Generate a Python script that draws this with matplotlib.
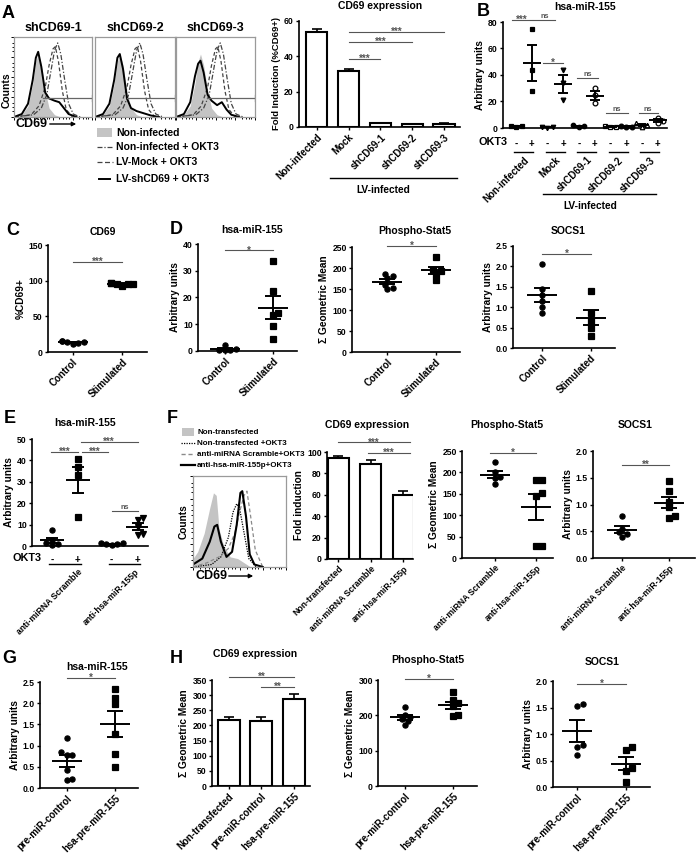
import numpy as np
import matplotlib
matplotlib.use("Agg")
import matplotlib.pyplot as plt

# ---------------- data ----------------
# A: flow histograms (x = fraction of CD69 channel range, y = relative counts)
a_gray_x = [0.0, 0.10, 0.18, 0.24, 0.28, 0.31, 0.35, 0.40, 0.45, 0.52, 0.60]
a_gray_y = [0.0, 0.03, 0.15, 0.45, 0.75, 0.85, 0.70, 0.35, 0.12, 0.03, 0.0]
a_dashdot_x = [0.0, 0.25, 0.35, 0.42, 0.47, 0.52, 0.56, 0.60, 0.65, 0.70, 0.76, 0.85]
a_dashdot_y = [0.0, 0.03, 0.12, 0.30, 0.60, 0.90, 1.00, 0.85, 0.50, 0.18, 0.04, 0.0]
a_dashed_x = [0.0, 0.22, 0.32, 0.40, 0.45, 0.50, 0.53, 0.57, 0.62, 0.67, 0.75]
a_dashed_y = [0.0, 0.03, 0.15, 0.40, 0.70, 0.92, 0.95, 0.75, 0.35, 0.10, 0.0]
a_black_x = [0.0, 0.10, 0.18, 0.24, 0.28, 0.31, 0.35, 0.40, 0.45, 0.52, 0.58, 0.64, 0.70, 0.80]
a_black1_y = [0.0, 0.04, 0.18, 0.50, 0.80, 0.88, 0.68, 0.33, 0.25, 0.22, 0.20, 0.12, 0.04, 0.0]
a_black2_y = [0.0, 0.04, 0.18, 0.50, 0.80, 0.85, 0.65, 0.25, 0.12, 0.08, 0.06, 0.04, 0.02, 0.0]
a_black3_y = [0.0, 0.04, 0.20, 0.55, 0.72, 0.76, 0.60, 0.30, 0.22, 0.16, 0.20, 0.10, 0.03, 0.0]
a_hist_titles = ["shCD69-1", "shCD69-2", "shCD69-3"]
a_gate_start = [0.37, 0.40, 0.39]

# A: CD69 expression bars
a_bar_labels = ["Non-infected", "Mock", "shCD69-1", "shCD69-2", "shCD69-3"]
a_bar_vals = [54.0, 31.5, 2.0, 1.5, 1.8]
a_bar_err = [1.5, 1.5, 0.3, 0.2, 0.2]

# B: hsa-miR-155, OKT3 -/+ per group
b_groups = ["Non-infected", "Mock", "shCD69-1", "shCD69-2", "shCD69-3"]
b_minus = [[1.2, 0.8, 1.5], [0.5, 0.3, 0.8], [2.0, 1.2, 0.8], [1.5, 0.8, 0.5], [3.5, 2.0, 1.0]]
b_plus = [[75, 44, 28], [44, 34, 21], [30, 25, 18.5], [1.8, 1.0, 0.6], [7.5, 5.5, 4.0]]

# C / D: Control vs Stimulated
c_ctrl = [16, 13, 11, 14, 15, 13.5]
c_stim = [97, 96, 95, 93, 97, 96]
d_mir_ctrl = [0.6, 0.4, 0.2, 0.5, 2.3]
d_mir_stim = [33.5, 22.4, 14.3, 13.4, 9.3, 4.6]
d_stat_ctrl = [180, 177, 186, 160, 150, 152]
d_stat_stim = [226, 196, 192, 186, 172]
d_socs_ctrl = [2.05, 1.45, 1.3, 1.15, 1.0, 0.85]
d_socs_stim = [1.4, 0.85, 0.65, 0.5, 0.3]

# E: hsa-miR-155 with antagomirs
e_labels = ["anti-miRNA Scramble", "anti-hsa-miR-155p"]
e_scr_minus = [7.5, 3.0, 1.2, 0.8, 0.5]
e_scr_plus = [40.5, 37, 33, 13.5]
e_anti_minus = [1.2, 1.0, 0.8, 0.6, 1.4]
e_anti_plus = [13, 12, 9, 5.5, 5]

# F: flow histogram
f_gray_x = [0.0, 0.05, 0.12, 0.18, 0.22, 0.25, 0.28, 0.33, 0.40, 0.48, 0.55, 0.62]
f_gray_y = [0.10, 0.18, 0.40, 0.70, 0.88, 0.85, 0.45, 0.25, 0.12, 0.10, 0.05, 0.0]
f_black_x = [0.0, 0.10, 0.18, 0.23, 0.26, 0.30, 0.36, 0.42, 0.47, 0.51, 0.53, 0.57, 0.61, 0.66, 0.75]
f_black_y = [0.03, 0.10, 0.30, 0.48, 0.50, 0.30, 0.12, 0.18, 0.50, 0.88, 0.90, 0.60, 0.15, 0.03, 0.0]
f_dotted_x = [0.0, 0.20, 0.30, 0.38, 0.43, 0.47, 0.50, 0.55, 0.60, 0.68]
f_dotted_y = [0.0, 0.03, 0.12, 0.35, 0.65, 0.75, 0.70, 0.40, 0.10, 0.0]
f_dashed_x = [0.0, 0.15, 0.28, 0.38, 0.45, 0.50, 0.55, 0.58, 0.62, 0.67, 0.75]
f_dashed_y = [0.0, 0.05, 0.12, 0.22, 0.40, 0.65, 0.85, 0.90, 0.60, 0.20, 0.0]

# F: bars and dots
f_bar_labels = ["Non-transfected", "anti-miRNA Scramble", "anti-hsa-miR-155p"]
f_bar_vals = [94.5, 88.5, 59.5]
f_bar_err = [1.5, 4.0, 4.5]
f_stat_scr = [225, 200, 190, 188, 172]
f_stat_anti = [183, 182, 152, 145, 27, 27]
f_socs_scr = [0.78, 0.55, 0.48, 0.45, 0.40]
f_socs_anti = [1.43, 1.25, 1.05, 0.95, 0.78, 0.75]

# G / H
gh_labels = ["pre-miR-control", "hsa-pre-miR-155"]
g_ctrl = [1.17, 0.85, 0.78, 0.78, 0.43, 0.22, 0.18]
g_pre = [2.33, 2.13, 1.98, 1.28, 0.80, 0.50]
h_bar_labels = ["Non-transfected", "pre-miR-control", "hsa-pre-miR-155"]
h_bar_vals = [217, 216, 288]
h_bar_err = [12, 11, 15]
h_stat_ctrl = [225, 201, 195, 190, 184, 173]
h_stat_pre = [266, 243, 235, 226, 201, 198]
h_socs_ctrl = [1.57, 1.53, 0.80, 0.75, 0.60]
h_socs_pre = [0.75, 0.70, 0.35, 0.30, 0.10]

# ---------------- helpers ----------------
plt.rcParams["font.family"] = ["Liberation Sans", "DejaVu Sans"]
plt.rcParams["font.weight"] = "bold"
plt.rcParams["axes.labelweight"] = "bold"

W, H = 696, 855
fig = plt.figure(figsize=(W / 100, H / 100), dpi=100)
over = fig.add_axes([0, 0, 1, 1])
over.set_xlim(0, W)
over.set_ylim(H, 0)
over.axis("off")

TICK = 6.2
LAB = 7.0
SMALL = 6.2


def px_axes(x0, y0, x1, y1):
    return fig.add_axes([x0 / W, 1 - y1 / H, (x1 - x0) / W, (y1 - y0) / H])


def prism(ax, xlim, ylim, yticks, fmt="{:g}", ylabel=None):
    ax.set_xlim(*xlim)
    ax.set_ylim(*ylim)
    ax.set_yticks(yticks)
    ax.set_yticklabels([fmt.format(t) for t in yticks])
    for s in ("top", "right"):
        ax.spines[s].set_visible(False)
    for s in ("left", "bottom"):
        ax.spines[s].set_linewidth(1.2)
    ax.tick_params(direction="out", length=2.5, width=1, labelsize=TICK, pad=1.2)
    ax.patch.set_alpha(0)
    if ylabel:
        ax.set_ylabel(ylabel, fontsize=7.3, labelpad=2)


def xcats(ax, pos, labels, fs=LAB):
    ax.set_xticks(pos)
    ax.set_xticklabels(labels, rotation=45, ha="right", rotation_mode="anchor", fontsize=fs)


def scale(ax):
    pos = ax.get_position()
    x0, x1 = ax.get_xlim()
    y0, y1 = ax.get_ylim()
    return pos.width * W / (x1 - x0), pos.height * H / (y1 - y0)


def swarm(ax, vals, d=4.6):
    sx, sy = scale(ax)
    placed = []
    offs = np.zeros(len(vals))
    for i in np.argsort(vals):
        py = vals[i] * sy
        px = 0.0
        for k in [0, 1, -1, 2, -2, 3, -3, 4, -4]:
            px = k * d * 0.6
            if all((px - qx) ** 2 + (py - qy) ** 2 >= d * d for qx, qy in placed):
                break
        placed.append((px, py))
        offs[i] = px / sx
    return offs


def dots(ax, x, vals, marker="o", filled=True, half=15, cap=8, ms=3.7):
    vals = np.asarray(vals, float)
    sx, _ = scale(ax)
    offs = swarm(ax, vals)
    ax.plot(x + offs, vals, ls="none", marker=marker, ms=ms,
            mfc="black" if filled else "white", mec="black", mew=0.9,
            clip_on=False, zorder=3)
    m = vals.mean()
    se = vals.std(ddof=1) / np.sqrt(len(vals))
    kw = dict(color="black", lw=1.4, zorder=4, solid_capstyle="butt")
    ax.plot([x - half / sx, x + half / sx], [m, m], **kw)
    ax.plot([x, x], [m - se, m + se], **kw)
    for yy in (m - se, m + se):
        ax.plot([x - cap / sx, x + cap / sx], [yy, yy], **kw)


def bars(ax, vals, errs, width):
    x = np.arange(len(vals))
    ax.errorbar(x, vals, yerr=[np.zeros(len(vals)), errs], fmt="none", ecolor="black",
                elinewidth=1.2, capsize=3.5, capthick=1.2, zorder=1)
    ax.bar(x, vals, width=width, color="white", edgecolor="black", linewidth=1.5, zorder=2)


def sig(ax, x0, x1, y, txt):
    ax.plot([x0, x1], [y, y], color="#555555", lw=0.8, clip_on=False)
    if txt == "ns":
        ax.text((x0 + x1) / 2, y, txt, ha="center", va="bottom", fontsize=5.2,
                color="#555555", clip_on=False)
    else:
        ax.text((x0 + x1) / 2, y, txt, ha="center", va="center", fontsize=7,
                color="#555555", clip_on=False)


def under(ax, x0, x1, dy_px, lw=1.0):
    hpx = ax.get_position().height * H
    ax.plot([x0, x1], [-dy_px / hpx] * 2, transform=ax.get_xaxis_transform(),
            clip_on=False, color="black", lw=lw)


def below(ax, x, dy_px, txt, **kw):
    ax.annotate(txt, xy=(x, 0), xycoords=("data", "axes fraction"),
                xytext=(0, -dy_px * 0.72), textcoords="offset points", **kw)


def title(x, y, txt, fs=7.5):
    over.text(x, y, txt, ha="center", va="center", fontsize=fs, fontweight="bold")


def letter(x, y, txt):
    over.text(x, y, txt, ha="left", va="center", fontsize=13, fontweight="bold")


def flow_frame(ax):
    ax.set_xlim(0, 1)
    ax.set_ylim(0, 1.08)
    for s in ax.spines.values():
        s.set_color("#9a9a9a")
        s.set_linewidth(0.9)
    ax.set_xticks([0.0, 0.25, 0.5, 0.75, 1.0])
    ax.set_xticks([0.08, 0.13, 0.17, 0.2, 0.33, 0.38, 0.42, 0.45, 0.58, 0.63, 0.67, 0.7, 0.83, 0.88, 0.92, 0.95], minor=True)
    ax.set_yticks([0.0, 0.27, 0.54, 0.81, 1.08])
    ax.set_yticks([0.08, 0.14, 0.19, 0.35, 0.41, 0.46, 0.62, 0.68, 0.73, 0.89, 0.95, 1.0], minor=True)
    ax.tick_params(which="both", direction="out", length=2, width=0.7, color="black",
                   labelbottom=False, labelleft=False)
    ax.tick_params(which="minor", length=1.2)


# ---------------- A: histograms ----------------
hist_boxes = [(14, 37, 92, 117), (95, 37, 175, 117), (176, 37, 255, 117)]
black_sets = [a_black1_y, a_black2_y, a_black3_y]
for i, (x0, y0, x1, y1) in enumerate(hist_boxes):
    ax = px_axes(x0, y0, x1, y1)
    flow_frame(ax)
    if i > 0:
        ax.tick_params(axis="y", which="both", left=False)
    ax.fill_between(a_gray_x, a_gray_y, color="#c4c4c4", lw=0)
    ax.plot(a_dashdot_x, a_dashdot_y, color="#444444", lw=0.9, ls=(0, (4, 1.5, 1, 1.5)))
    ax.plot(a_dashed_x, a_dashed_y, color="#444444", lw=0.9, ls=(0, (3, 2)))
    ax.plot(a_black_x, black_sets[i], color="black", lw=1.4)
    g = a_gate_start[i]
    ax.plot([g, 0.995], [0.26, 0.26], color="#666666", lw=0.9)
    ax.plot([0.995, 0.995], [0.22, 0.30], color="#666666", lw=0.9)
    title((x0 + x1) / 2, 28, a_hist_titles[i], fs=9)

letter(2, 13, "A")
over.text(7, 90, "Counts", rotation=90, ha="center", va="center", fontsize=7.5)
over.text(15, 124, "CD69", ha="left", va="center", fontsize=9)
over.annotate("", xy=(79, 124), xytext=(47, 124),
              arrowprops=dict(arrowstyle="-|>", lw=1.0, color="black", mutation_scale=6))
over.add_patch(plt.Rectangle((97, 128), 15, 9, color="#c4c4c4", lw=0))
over.text(116, 132.5, "Non-infected", ha="left", va="center", fontsize=7.5)
over.plot([97, 113], [147, 147], color="#444444", lw=0.9, ls=(0, (4, 1.5, 1, 1.5)))
over.text(116, 147, "Non-infected + OKT3", ha="left", va="center", fontsize=7.5)
over.plot([97, 113], [162, 162], color="#444444", lw=0.9, ls=(0, (4, 2)))
over.text(116, 162, "LV-Mock + OKT3", ha="left", va="center", fontsize=7.5)
over.plot([99, 110], [179, 179], color="black", lw=1.4)
over.text(116, 179, "LV-shCD69 + OKT3", ha="left", va="center", fontsize=7.5)

# ---------------- A: bars ----------------
ax = px_axes(299, 21, 460, 127)
prism(ax, (-0.56, 4.5), (0, 60), [0, 20, 40, 60], ylabel="Fold Induction (%CD69+)")
ax.yaxis.label.set_fontsize(6.8)
bars(ax, a_bar_vals, a_bar_err, 0.67)
xcats(ax, range(5), a_bar_labels)
sig(ax, 1, 2, 38.5, "***")
sig(ax, 1, 3, 48, "***")
sig(ax, 1, 4, 53.8, "***")
title(380, 6, "CD69 expression")
over.plot([330, 457], [178, 178], color="black", lw=1.0)
over.text(383, 190, "LV-infected", ha="center", va="center", fontsize=7.3)

# ---------------- B ----------------
ax = px_axes(503, 22, 667, 128)
prism(ax, (-0.83, 9.6), (0, 80), [0, 20, 40, 60, 80], ylabel="Arbitrary units")
b_mark = [("s", True, "s", True), ("v", True, "v", True), ("o", True, "o", False),
          ("s", False, "o", True), ("^", False, "o", False)]
for k in range(5):
    m1, f1, m2, f2 = b_mark[k]
    dots(ax, 2 * k, b_minus[k], marker=m1, filled=f1, half=7, cap=4, ms=3.2)
    dots(ax, 2 * k + 1, b_plus[k], marker=m2, filled=f2, half=9, cap=5, ms=3.4)
ax.set_xticks(range(10))
ax.set_xticklabels(["-", "+"] * 5, fontsize=7)
ax.tick_params(axis="x", length=0, pad=8)
ax.annotate("OKT3", xy=(0, 0), xycoords="axes fraction", xytext=(3, -10),
            textcoords="offset points", ha="right", va="center", fontsize=7.8)
for k in range(5):
    under(ax, 2 * k - 0.1, 2 * k + 1.1, 24)
    below(ax, 2 * k + 0.5, 27, b_groups[k], rotation=45, ha="right", va="top",
          rotation_mode="anchor", fontsize=LAB)
sig(ax, -0.25, 1.0, 81.5, "***")
sig(ax, 1.1, 2.5, 81.5, "ns")
sig(ax, 1.7, 3.0, 49, "*")
sig(ax, 3.9, 5.2, 37.7, "ns")
sig(ax, 5.7, 7.1, 11.3, "ns")
sig(ax, 7.8, 9.0, 11.3, "ns")
title(585, 7, "hsa-miR-155")
letter(477, 12, "B")
over.plot([543, 656], [194, 194], color="black", lw=1.0)
over.text(590, 206, "LV-infected", ha="center", va="center", fontsize=7.3)

# ---------------- C ----------------
ax = px_axes(48, 245, 147, 352)
prism(ax, (-0.5, 1.5), (0, 150), [0, 50, 100, 150], ylabel="%CD69+")
dots(ax, 0, c_ctrl)
dots(ax, 1, c_stim, marker="s")
xcats(ax, [0, 1], ["Control", "Stimulated"])
sig(ax, 0, 1, 126, "***")
title(103, 232, "CD69")
letter(6, 230, "C")

# ---------------- D ----------------
ax = px_axes(198, 244, 297, 351)
prism(ax, (-0.56, 1.5), (0, 40), [0, 10, 20, 30, 40], ylabel="Arbitrary units")
dots(ax, 0, d_mir_ctrl)
dots(ax, 1, d_mir_stim, marker="s")
xcats(ax, [0, 1], ["Control", "Stimulated"])
sig(ax, 0, 1, 37.6, "*")
title(252, 230, "hsa-miR-155")
letter(170, 229, "D")

ax = px_axes(352, 247, 460, 352)
prism(ax, (-0.73, 1.5), (0, 250), [0, 50, 100, 150, 200, 250], ylabel="\u03a3 Geometric Mean")
dots(ax, 0, d_stat_ctrl)
dots(ax, 1, d_stat_stim, marker="s")
xcats(ax, [0, 1], ["Control", "Stimulated"])
sig(ax, 0, 1, 252, "*")
title(415, 231, "Phospho-Stat5")

ax = px_axes(513, 246, 615, 348)
prism(ax, (-0.6, 1.5), (0, 2.5), [0, 0.5, 1.0, 1.5, 2.0, 2.5], fmt="{:.1f}", ylabel="Arbitrary units")
dots(ax, 0, d_socs_ctrl)
dots(ax, 1, d_socs_stim, marker="s")
xcats(ax, [0, 1], ["Control", "Stimulated"])
sig(ax, 0, 1, 2.3, "*")
title(568, 231, "SOCS1")

# ---------------- E ----------------
ax = px_axes(32, 439, 148, 546)
prism(ax, (-0.77, 3.7), (0, 50), [0, 10, 20, 30, 40, 50], ylabel="Arbitrary units")
e_pos = [0, 1, 2.3, 3.3]
dots(ax, e_pos[0], e_scr_minus, marker="o", half=12, cap=6)
dots(ax, e_pos[1], e_scr_plus, marker="s", half=12, cap=6)
dots(ax, e_pos[2], e_anti_minus, marker="o", half=12, cap=6)
dots(ax, e_pos[3], e_anti_plus, marker="v", half=12, cap=6)
ax.set_xticks(e_pos)
ax.set_xticklabels(["-", "+", "-", "+"], fontsize=7)
ax.tick_params(axis="x", length=0, pad=6.5)
ax.annotate("OKT3", xy=(0, 0), xycoords="axes fraction", xytext=(7, -8.6),
            textcoords="offset points", ha="right", va="center", fontsize=7.8)
under(ax, -0.1, 1.1, 18)
under(ax, 2.2, 3.4, 18)
below(ax, 1.0, 21, e_labels[0], rotation=45, ha="right", va="top",
      rotation_mode="anchor", fontsize=SMALL)
below(ax, 3.2, 21, e_labels[1], rotation=45, ha="right", va="top",
      rotation_mode="anchor", fontsize=SMALL)
sig(ax, -0.05, 1.0, 44, "***")
sig(ax, 1.15, 2.15, 44, "***")
sig(ax, 1.1, 3.3, 48.6, "***")
sig(ax, 2.3, 3.3, 16.4, "ns")
title(85, 423, "hsa-miR-155")
letter(4, 418, "E")

# ---------------- F: histogram ----------------
ax = px_axes(193, 476, 286, 567)
flow_frame(ax)
ax.fill_between(f_gray_x, f_gray_y, color="#c4c4c4", lw=0)
ax.plot(f_dotted_x, f_dotted_y, color="black", lw=0.9, ls=(0, (1, 1)))
ax.plot(f_dashed_x, f_dashed_y, color="#8a8a8a", lw=0.9, ls=(0, (3, 2)))
ax.plot(f_black_x, f_black_y, color="black", lw=1.5)
letter(167, 418, "F")
over.add_patch(plt.Rectangle((182, 428), 12, 8, color="#c4c4c4", lw=0))
over.text(197, 432, "Non-transfected", ha="left", va="center", fontsize=5.8)
over.plot([181, 195], [443, 443], color="black", lw=0.9, ls=(0, (1, 1)))
over.text(197, 443, "Non-transfected +OKT3", ha="left", va="center", fontsize=5.8)
over.plot([181, 195], [454, 454], color="#8a8a8a", lw=1.0, ls=(0, (3, 2)))
over.text(197, 454, "anti-miRNA Scramble+OKT3", ha="left", va="center", fontsize=5.8)
over.plot([181, 195], [465, 465], color="black", lw=1.6)
over.text(197, 465, "anti-hsa-miR-155p+OKT3", ha="left", va="center", fontsize=5.8)
over.text(184, 522, "Counts", rotation=90, ha="center", va="center", fontsize=7.3)
over.text(195, 576, "CD69", ha="left", va="center", fontsize=9)
over.annotate("", xy=(256, 576), xytext=(226, 576),
              arrowprops=dict(arrowstyle="-|>", lw=1.0, color="black", mutation_scale=6))

# ---------------- F: bars / dots ----------------
ax = px_axes(327, 452, 413, 559)
prism(ax, (-0.35, 2.3), (0, 100), [0, 20, 40, 60, 80, 100], ylabel="Fold induction")
bars(ax, f_bar_vals, f_bar_err, 0.65)
xcats(ax, range(3), f_bar_labels, fs=SMALL)
sig(ax, 0, 2.2, 109, "***")
sig(ax, 0.9, 2.2, 99, "***")
title(367, 425, "CD69 expression")

ax = px_axes(462, 451, 553, 558)
prism(ax, (-0.78, 1.4), (0, 250), [0, 50, 100, 150, 200, 250], ylabel="\u03a3 Geometric Mean")
dots(ax, 0, f_stat_scr)
dots(ax, 1, f_stat_anti, marker="s")
xcats(ax, [0, 1], e_labels, fs=SMALL)
sig(ax, -0.1, 1.0, 245, "*")
title(507, 425, "Phospho-Stat5")

ax = px_axes(593, 451, 695, 558)
prism(ax, (-0.61, 1.54), (0, 2.0), [0, 0.5, 1.0, 1.5, 2.0], fmt="{:.1f}", ylabel="Arbitrary units")
dots(ax, 0, f_socs_scr)
dots(ax, 1, f_socs_anti, marker="s")
xcats(ax, [0, 1], e_labels, fs=SMALL)
sig(ax, 0, 1, 1.74, "**")
title(635, 425, "SOCS1")

# ---------------- G ----------------
ax = px_axes(40, 682, 138, 788)
prism(ax, (-0.56, 1.48), (0, 2.5), [0, 0.5, 1.0, 1.5, 2.0, 2.5], fmt="{:.1f}", ylabel="Arbitrary units")
dots(ax, 0, g_ctrl)
dots(ax, 1, g_pre, marker="s")
xcats(ax, [0, 1], gh_labels)
sig(ax, 0, 1, 2.6, "*")
title(97, 667, "hsa-miR-155")
letter(2, 658, "G")

# ---------------- H ----------------
ax = px_axes(212, 680, 310, 786)
prism(ax, (-0.52, 2.5), (0, 350), [0, 50, 100, 150, 200, 250, 300, 350], ylabel="\u03a3 Geometric Mean")
bars(ax, h_bar_vals, h_bar_err, 0.67)
xcats(ax, range(3), h_bar_labels)
sig(ax, 0, 2, 360, "**")
sig(ax, 1, 2, 327, "**")
title(255, 654, "CD69 expression")
letter(170, 658, "H")

ax = px_axes(378, 680, 477, 786)
prism(ax, (-0.56, 1.5), (0, 300), [0, 100, 200, 300], ylabel="\u03a3 Geometric Mean")
dots(ax, 0, h_stat_ctrl)
dots(ax, 1, h_stat_pre, marker="s")
xcats(ax, [0, 1], gh_labels)
sig(ax, 0, 1, 303, "*")
title(428, 660, "Phospho-Stat5")

ax = px_axes(553, 681, 650, 787)
prism(ax, (-0.49, 1.49), (0, 2.0), [0, 0.5, 1.0, 1.5, 2.0], fmt="{:.1f}", ylabel="Arbitrary units")
dots(ax, 0, h_socs_ctrl)
dots(ax, 1, h_socs_pre, marker="s")
xcats(ax, [0, 1], gh_labels)
sig(ax, 0, 1, 1.95, "*")
title(602, 662, "SOCS1")

fig.savefig("out.png", dpi=100)
